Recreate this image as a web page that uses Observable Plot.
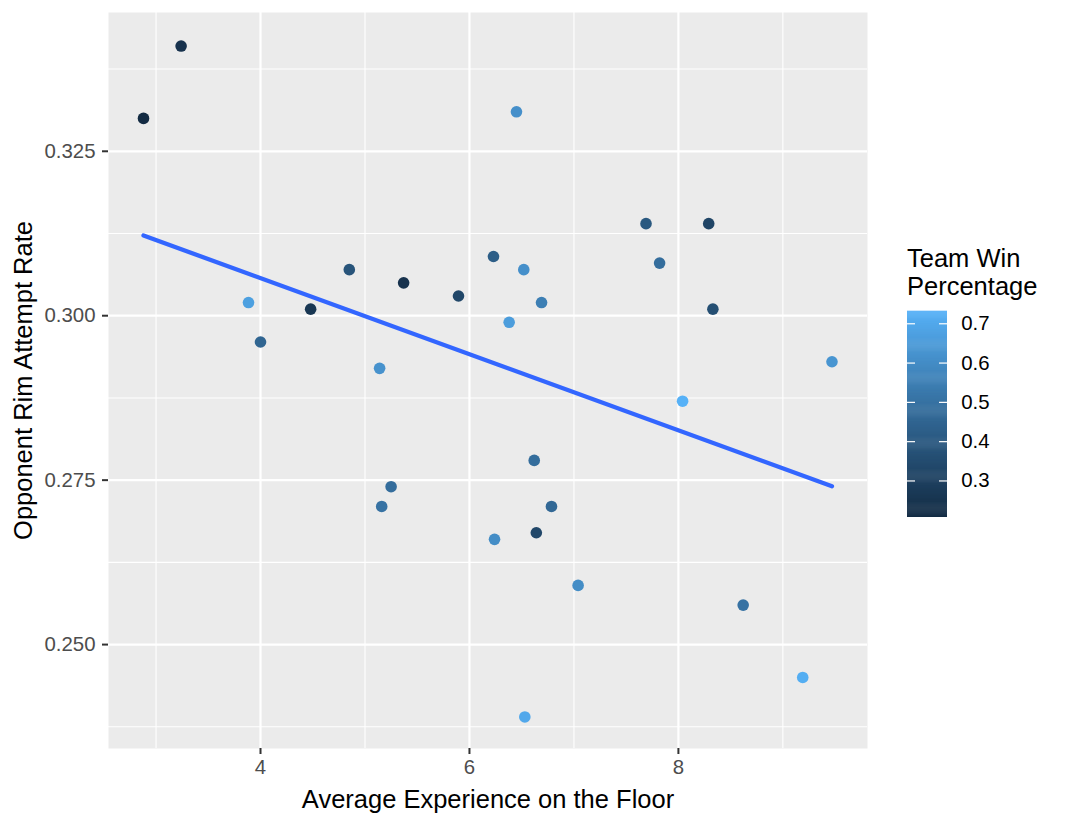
<!DOCTYPE html>
<html>
<head>
<meta charset="utf-8">
<script src="https://cdn.jsdelivr.net/npm/d3@7"></script>
<script src="https://cdn.jsdelivr.net/npm/@observablehq/plot@0.6"></script>
<style>
  html, body { margin: 0; padding: 0; background: white; }
  #wrap { position: relative; width: 1067px; height: 825px; font-family: "Liberation Sans", Arial, sans-serif; }
  #main { position: absolute; left: 0; top: 0; }
  #legtitle { position: absolute; left: 907px; top: 244px; font-size: 25.5px; line-height: 28px; color: black; white-space: nowrap; }
  #legend { position: absolute; left: 900px; top: 300px; }
</style>
</head>
<body>
<div id="wrap">
  <div id="main"></div>
  <div id="legtitle">Team Win<br>Percentage</div>
  <div id="legend"></div>
</div>
<script>
// Average experience on the floor (years)
const experience = [2.88, 3.24, 3.885, 4.00, 4.48, 4.85, 5.14, 5.16, 5.25, 5.37,
                    5.895, 6.23, 6.24, 6.38, 6.45, 6.52, 6.53, 6.62, 6.64, 6.69,
                    6.785, 7.04, 7.69, 7.82, 8.04, 8.29, 8.33, 8.62, 9.19, 9.47];
// Opponent rim attempt rate
const rimRate = [0.330, 0.341, 0.302, 0.296, 0.301, 0.307, 0.292, 0.271, 0.274, 0.305,
                 0.303, 0.309, 0.266, 0.299, 0.331, 0.307, 0.239, 0.278, 0.267, 0.302,
                 0.271, 0.259, 0.314, 0.308, 0.287, 0.314, 0.301, 0.256, 0.245, 0.293];
// Team win percentage
const winPct = [0.207, 0.24, 0.67, 0.45, 0.26, 0.38, 0.62, 0.50, 0.48, 0.24,
                0.33, 0.42, 0.60, 0.66, 0.61, 0.61, 0.70, 0.48, 0.33, 0.55,
                0.46, 0.60, 0.40, 0.48, 0.732, 0.32, 0.36, 0.50, 0.72, 0.63];

const xMajor = [4, 6, 8];
const xMinor = [3, 5, 7, 9];
const yMajor = [0.250, 0.275, 0.300, 0.325];
const yMinor = [0.2375, 0.2625, 0.2875, 0.3125, 0.3375];
const legendTicks = [0.3, 0.4, 0.5, 0.6, 0.7];

const xLabel = "Average Experience on the Floor";
const yLabel = "Opponent Rim Attempt Rate";

const data = experience.map((x, i) => ({x, y: rimRate[i], win: winPct[i]}));
const winDomain = [d3.min(winPct), d3.max(winPct)];
const colorScale = {type: "linear", domain: winDomain, range: ["#132B43", "#56B1F7"], interpolate: "lab"};
const font = "'Liberation Sans', Arial, sans-serif";

const main = Plot.plot({
  width: 880, height: 825,
  marginLeft: 108, marginRight: 13, marginTop: 12, marginBottom: 77,
  style: {fontFamily: font, background: "white", overflow: "visible"},
  x: {domain: [2.545, 9.81]},
  y: {domain: [0.2342, 0.3461]},
  color: colorScale,
  marks: [
    Plot.frame({fill: "#EBEBEB", stroke: null}),
    Plot.ruleX(xMinor, {stroke: "white", strokeWidth: 1.1}),
    Plot.ruleY(yMinor, {stroke: "white", strokeWidth: 1.1}),
    Plot.ruleX(xMajor, {stroke: "white", strokeWidth: 2.2}),
    Plot.ruleY(yMajor, {stroke: "white", strokeWidth: 2.2}),
    Plot.axisX({ticks: xMajor, tickSize: 6, tickPadding: 5, fontSize: 20.4, stroke: "#333333", fill: "#4D4D4D", strokeWidth: 2, label: null}),
    Plot.axisY({ticks: yMajor, tickFormat: d3.format(".3f"), tickSize: 6, tickPadding: 7, fontSize: 20.4, stroke: "#333333", fill: "#4D4D4D", strokeWidth: 2, label: null}),
    Plot.dot(data, {x: "x", y: "y", fill: "win", r: 5.8}),
    Plot.linearRegressionY(data, {x: "x", y: "y", stroke: "#3366FF", strokeWidth: 4.3, ci: 0}),
    Plot.text([xLabel], {frameAnchor: "bottom", lineAnchor: "middle", textAnchor: "middle", dy: 51, fontSize: 25.5, fill: "black"}),
    Plot.text([yLabel], {frameAnchor: "left", lineAnchor: "middle", textAnchor: "middle", dx: -85, rotate: -90, fontSize: 25.5, fill: "black"})
  ]
});
document.getElementById("main").appendChild(main);

// Colour bar legend
const N = 200;
const step = (winDomain[1] - winDomain[0]) / N;
const slices = d3.range(N).map(i => winDomain[0] + i * step);
const legend = Plot.plot({
  width: 100, height: 230,
  marginLeft: 7, marginRight: 53, marginTop: 10.7, marginBottom: 13,
  style: {fontFamily: font, background: "transparent", overflow: "visible"},
  x: {domain: [0, 1], axis: null},
  y: {domain: winDomain},
  color: colorScale,
  marks: [
    Plot.rectY(slices, {x1: 0, x2: 1, y1: d => d, y2: d => Math.min(d + step * 1.5, winDomain[1]), fill: d => d + step / 2}),
    Plot.ruleY(legendTicks, {x1: 0, x2: 0.2, stroke: "white", strokeWidth: 1.2}),
    Plot.ruleY(legendTicks, {x1: 0.8, x2: 1, stroke: "white", strokeWidth: 1.2}),
    Plot.axisY({anchor: "right", ticks: legendTicks, tickSize: 0, tickPadding: 13.7, fontSize: 20.4, fill: "black", label: null, tickFormat: d3.format(".1f")})
  ]
});
document.getElementById("legend").appendChild(legend);
</script>
</body>
</html>
